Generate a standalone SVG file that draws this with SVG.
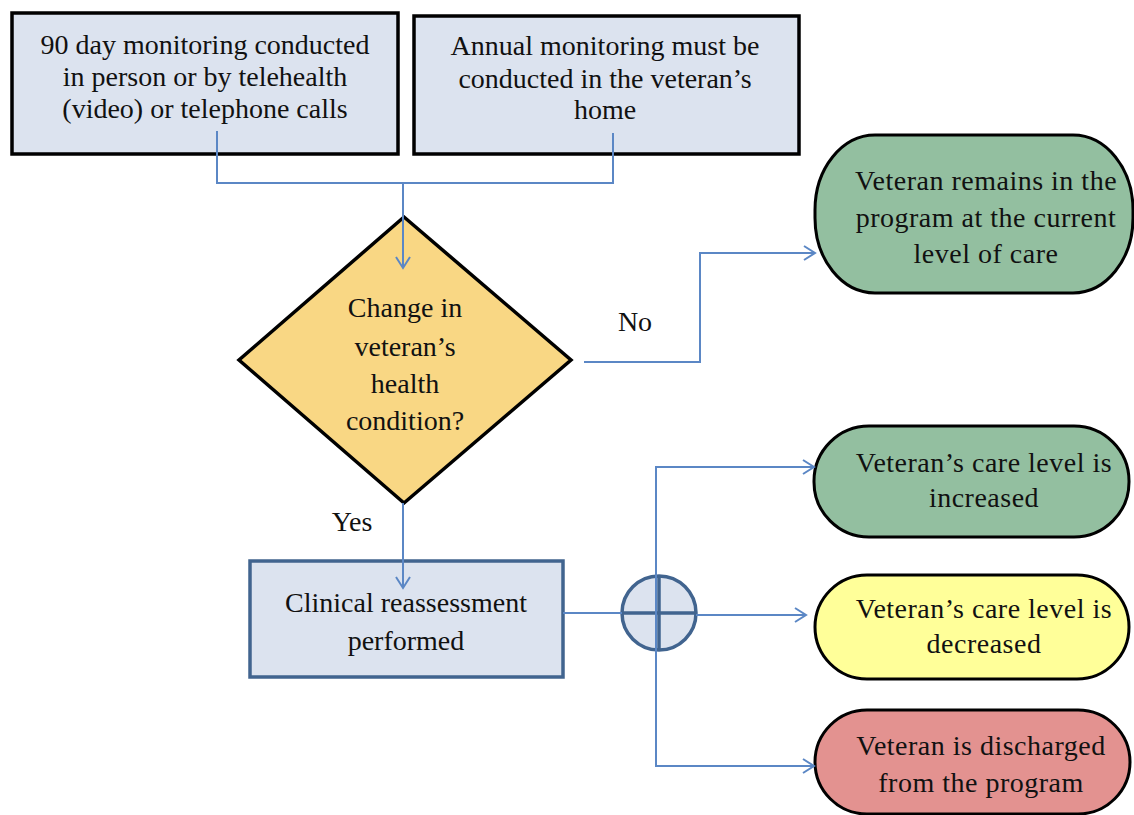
<svg xmlns="http://www.w3.org/2000/svg" width="1134" height="815" viewBox="0 0 1134 815">
<defs>
<style>
text{font-family:"Liberation Serif","Times New Roman",serif;font-size:28px;fill:#111;text-anchor:middle}
.term text{letter-spacing:0.5px}
.box{fill:#dce3ef;stroke:#000;stroke-width:3.5}
.con{fill:none;stroke:#5b87c5;stroke-width:2}
</style>
<marker id="ah" markerWidth="14" markerHeight="16" refX="12" refY="8" orient="auto" markerUnits="userSpaceOnUse">
<path d="M1,1 L12,8 L1,15" fill="none" stroke="#5b87c5" stroke-width="2"/>
</marker>
</defs>
<rect width="1134" height="815" fill="#fff"/>
<g id="box1">
<rect class="box" x="12" y="13" width="386" height="141"/>
<text x="205" y="54">90 day monitoring conducted</text>
<text x="205" y="86">in person or by telehealth</text>
<text x="205" y="118">(video) or telephone calls</text>
</g>
<g id="box2">
<rect class="box" x="414" y="16" width="385" height="138"/>
<text x="605" y="55">Annual monitoring must be</text>
<text x="605" y="88">conducted in the veteran’s</text>
<text x="605" y="119">home</text>
</g>
<g id="decision">
<polygon points="404,217 571,360 404,503 239,360" fill="#f9d784" stroke="#000" stroke-width="3.5"/>
<text x="405" y="317">Change in</text>
<text x="405" y="356">veteran’s</text>
<text x="405" y="393">health</text>
<text x="405" y="430">condition?</text>
</g>
<g id="reassess">
<rect x="250" y="561" width="313" height="116" fill="#dce3ef" stroke="#41648f" stroke-width="3.5"/>
<text x="406" y="612">Clinical reassessment</text>
<text x="406" y="650">performed</text>
</g>
<g id="junction">
<circle cx="659" cy="613" r="37" fill="#dce3ef" stroke="#41648f" stroke-width="3.5"/>
<line x1="622" y1="613" x2="696" y2="613" stroke="#41648f" stroke-width="3.5"/>
<line x1="659" y1="576" x2="659" y2="650" stroke="#41648f" stroke-width="3.5"/>
</g>
<g id="remain" class="term">
<rect x="815" y="135" width="318" height="158" rx="60" ry="75" fill="#93bfa0" stroke="#000" stroke-width="3"/>
<text x="986" y="190">Veteran remains in the</text>
<text x="986" y="227">program at the current</text>
<text x="986" y="263">level of care</text>
</g>
<g id="increased" class="term">
<rect x="814" y="426" width="315" height="111" rx="55" ry="55" fill="#93bfa0" stroke="#000" stroke-width="3"/>
<text x="984" y="472">Veteran’s care level is</text>
<text x="984" y="507">increased</text>
</g>
<g id="decreased" class="term">
<rect x="815" y="575" width="314" height="104" rx="52" ry="52" fill="#ffff99" stroke="#000" stroke-width="3"/>
<text x="984" y="618">Veteran’s care level is</text>
<text x="984" y="653">decreased</text>
</g>
<g id="discharged" class="term">
<rect x="815" y="710" width="315" height="104" rx="52" ry="52" fill="#e39290" stroke="#000" stroke-width="3"/>
<text x="981" y="755">Veteran is discharged</text>
<text x="981" y="792">from the program</text>
</g>
<g id="connectors">
<polyline class="con" points="217,131 217,183 613,183 613,133"/>
<polyline class="con" points="403,183 403,268" marker-end="url(#ah)"/>
<polyline class="con" points="584,362 700,362 700,253 815,253" marker-end="url(#ah)"/>
<text x="635" y="331">No</text>
<polyline class="con" points="403,503 403,588" marker-end="url(#ah)"/>
<text x="352" y="531">Yes</text>
<line class="con" x1="563" y1="613" x2="622" y2="613"/>
<polyline class="con" points="656,613 656,467 814,467" marker-end="url(#ah)"/>
<polyline class="con" points="656,613 656,766 814,766" marker-end="url(#ah)"/>
<polyline class="con" points="696,615 806,615" marker-end="url(#ah)"/>
</g>
</svg>
